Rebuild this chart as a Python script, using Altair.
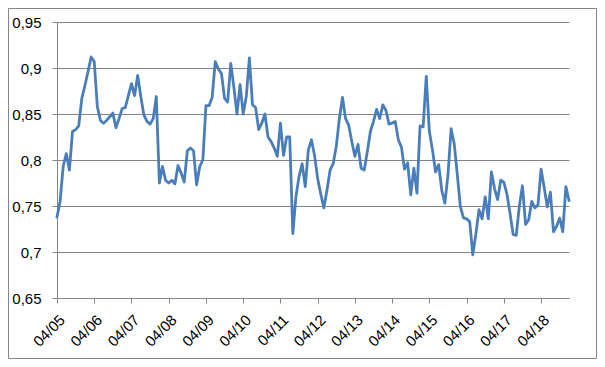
import altair as alt
import pandas as pd

# Monthly values, 04/2005 .. 01/2019
values = [
    0.738, 0.755, 0.793, 0.807, 0.789, 0.831, 0.833, 0.837, 0.867, 0.881,
    0.896, 0.912, 0.907, 0.858, 0.843, 0.840, 0.843, 0.847, 0.851, 0.835,
    0.845, 0.856, 0.857, 0.870, 0.883, 0.870, 0.892, 0.869, 0.849, 0.842,
    0.839, 0.845, 0.869, 0.775, 0.793, 0.778, 0.775, 0.778, 0.774, 0.794,
    0.786, 0.776, 0.810, 0.813, 0.810, 0.773, 0.793, 0.800, 0.859, 0.859,
    0.868, 0.907, 0.899, 0.894, 0.867, 0.863, 0.905, 0.879, 0.850, 0.882,
    0.850, 0.869, 0.911, 0.860, 0.857, 0.833, 0.840, 0.850, 0.825, 0.820,
    0.813, 0.804, 0.840, 0.805, 0.825, 0.825, 0.720, 0.760, 0.782, 0.796,
    0.771, 0.811, 0.822, 0.805, 0.780, 0.763, 0.748, 0.767, 0.789, 0.796,
    0.815, 0.845, 0.868, 0.845, 0.838, 0.820, 0.804, 0.817, 0.791, 0.789,
    0.809, 0.831, 0.842, 0.855, 0.845, 0.860, 0.854, 0.839, 0.840, 0.842,
    0.822, 0.814, 0.790, 0.797, 0.762, 0.791, 0.764, 0.837, 0.836, 0.891,
    0.831, 0.811, 0.787, 0.795, 0.767, 0.753, 0.784, 0.834, 0.818, 0.784,
    0.749, 0.737, 0.736, 0.733, 0.697, 0.720, 0.746, 0.736, 0.760, 0.736,
    0.787, 0.769, 0.757, 0.778, 0.776, 0.763, 0.742, 0.719, 0.718, 0.750,
    0.772, 0.730, 0.735, 0.755, 0.748, 0.751, 0.790, 0.770, 0.749, 0.765,
    0.722, 0.728, 0.737, 0.722, 0.771, 0.756,
]
month_index = list(range(len(values)))
tick_labels = ["04/05", "04/06", "04/07", "04/08", "04/09", "04/10", "04/11",
               "04/12", "04/13", "04/14", "04/15", "04/16", "04/17", "04/18"]
tick_positions = [12 * k for k in range(len(tick_labels))]
y_ticks = [0.65, 0.70, 0.75, 0.80, 0.85, 0.90, 0.95]

df = pd.DataFrame({"m": month_index, "v": values})
label_expr = "[" + ",".join("'%s'" % t for t in tick_labels) + "][round(datum.value/12)]"

GRAY = "#868686"
FONT = "Liberation Sans"

W, H = 512, 276
PAD = {"left": 49, "top": 14, "right": 28, "bottom": 61}

border = alt.Chart(pd.DataFrame({"a": [0]})).mark_rect(
    fillOpacity=0, stroke=GRAY, strokeWidth=1
).encode(
    x=alt.value(-PAD["left"] + 0.5),
    x2=alt.value(W + PAD["right"] - 0.5),
    y=alt.value(-PAD["top"] + 0.5),
    y2=alt.value(H + PAD["bottom"] - 0.5),
)

line = alt.Chart(df).mark_line(
    color="#4A7EBB", strokeWidth=2.8, strokeJoin="round", strokeCap="round"
).encode(
    x=alt.X(
        "m:Q",
        scale=alt.Scale(domain=[0, len(values) - 1], nice=False, zero=False),
        axis=alt.Axis(
            values=tick_positions, labelExpr=label_expr, labelAngle=-45,
            grid=False, ticks=True, tickSize=5, tickColor=GRAY,
            domainColor=GRAY, labelFont=FONT, labelFontSize=15,
            labelColor="black", labelPadding=9, title=None,
            labelOverlap=False, labelBound=False, labelFlush=False,
        ),
    ),
    y=alt.Y(
        "v:Q",
        scale=alt.Scale(domain=[0.65, 0.95], nice=False, zero=False),
        axis=alt.Axis(
            values=y_ticks,
            labelExpr="replace(format(datum.value, '.2~f'), '.', ',')",
            grid=True, gridColor=GRAY, gridWidth=1, ticks=True, tickSize=5,
            tickColor=GRAY, domainColor=GRAY, labelFont=FONT,
            labelFontSize=15, labelColor="black", labelPadding=11,
            title=None, labelOverlap=False, labelFlush=False,
        ),
    ),
)

chart = alt.layer(border, line).properties(
    width=W, height=H,
    autosize=alt.AutoSizeParams(type="none"),
    padding=PAD,
    background="white",
).configure_view(strokeWidth=0)

chart.save("out.html", embed_options={"renderer": "svg", "actions": False})
